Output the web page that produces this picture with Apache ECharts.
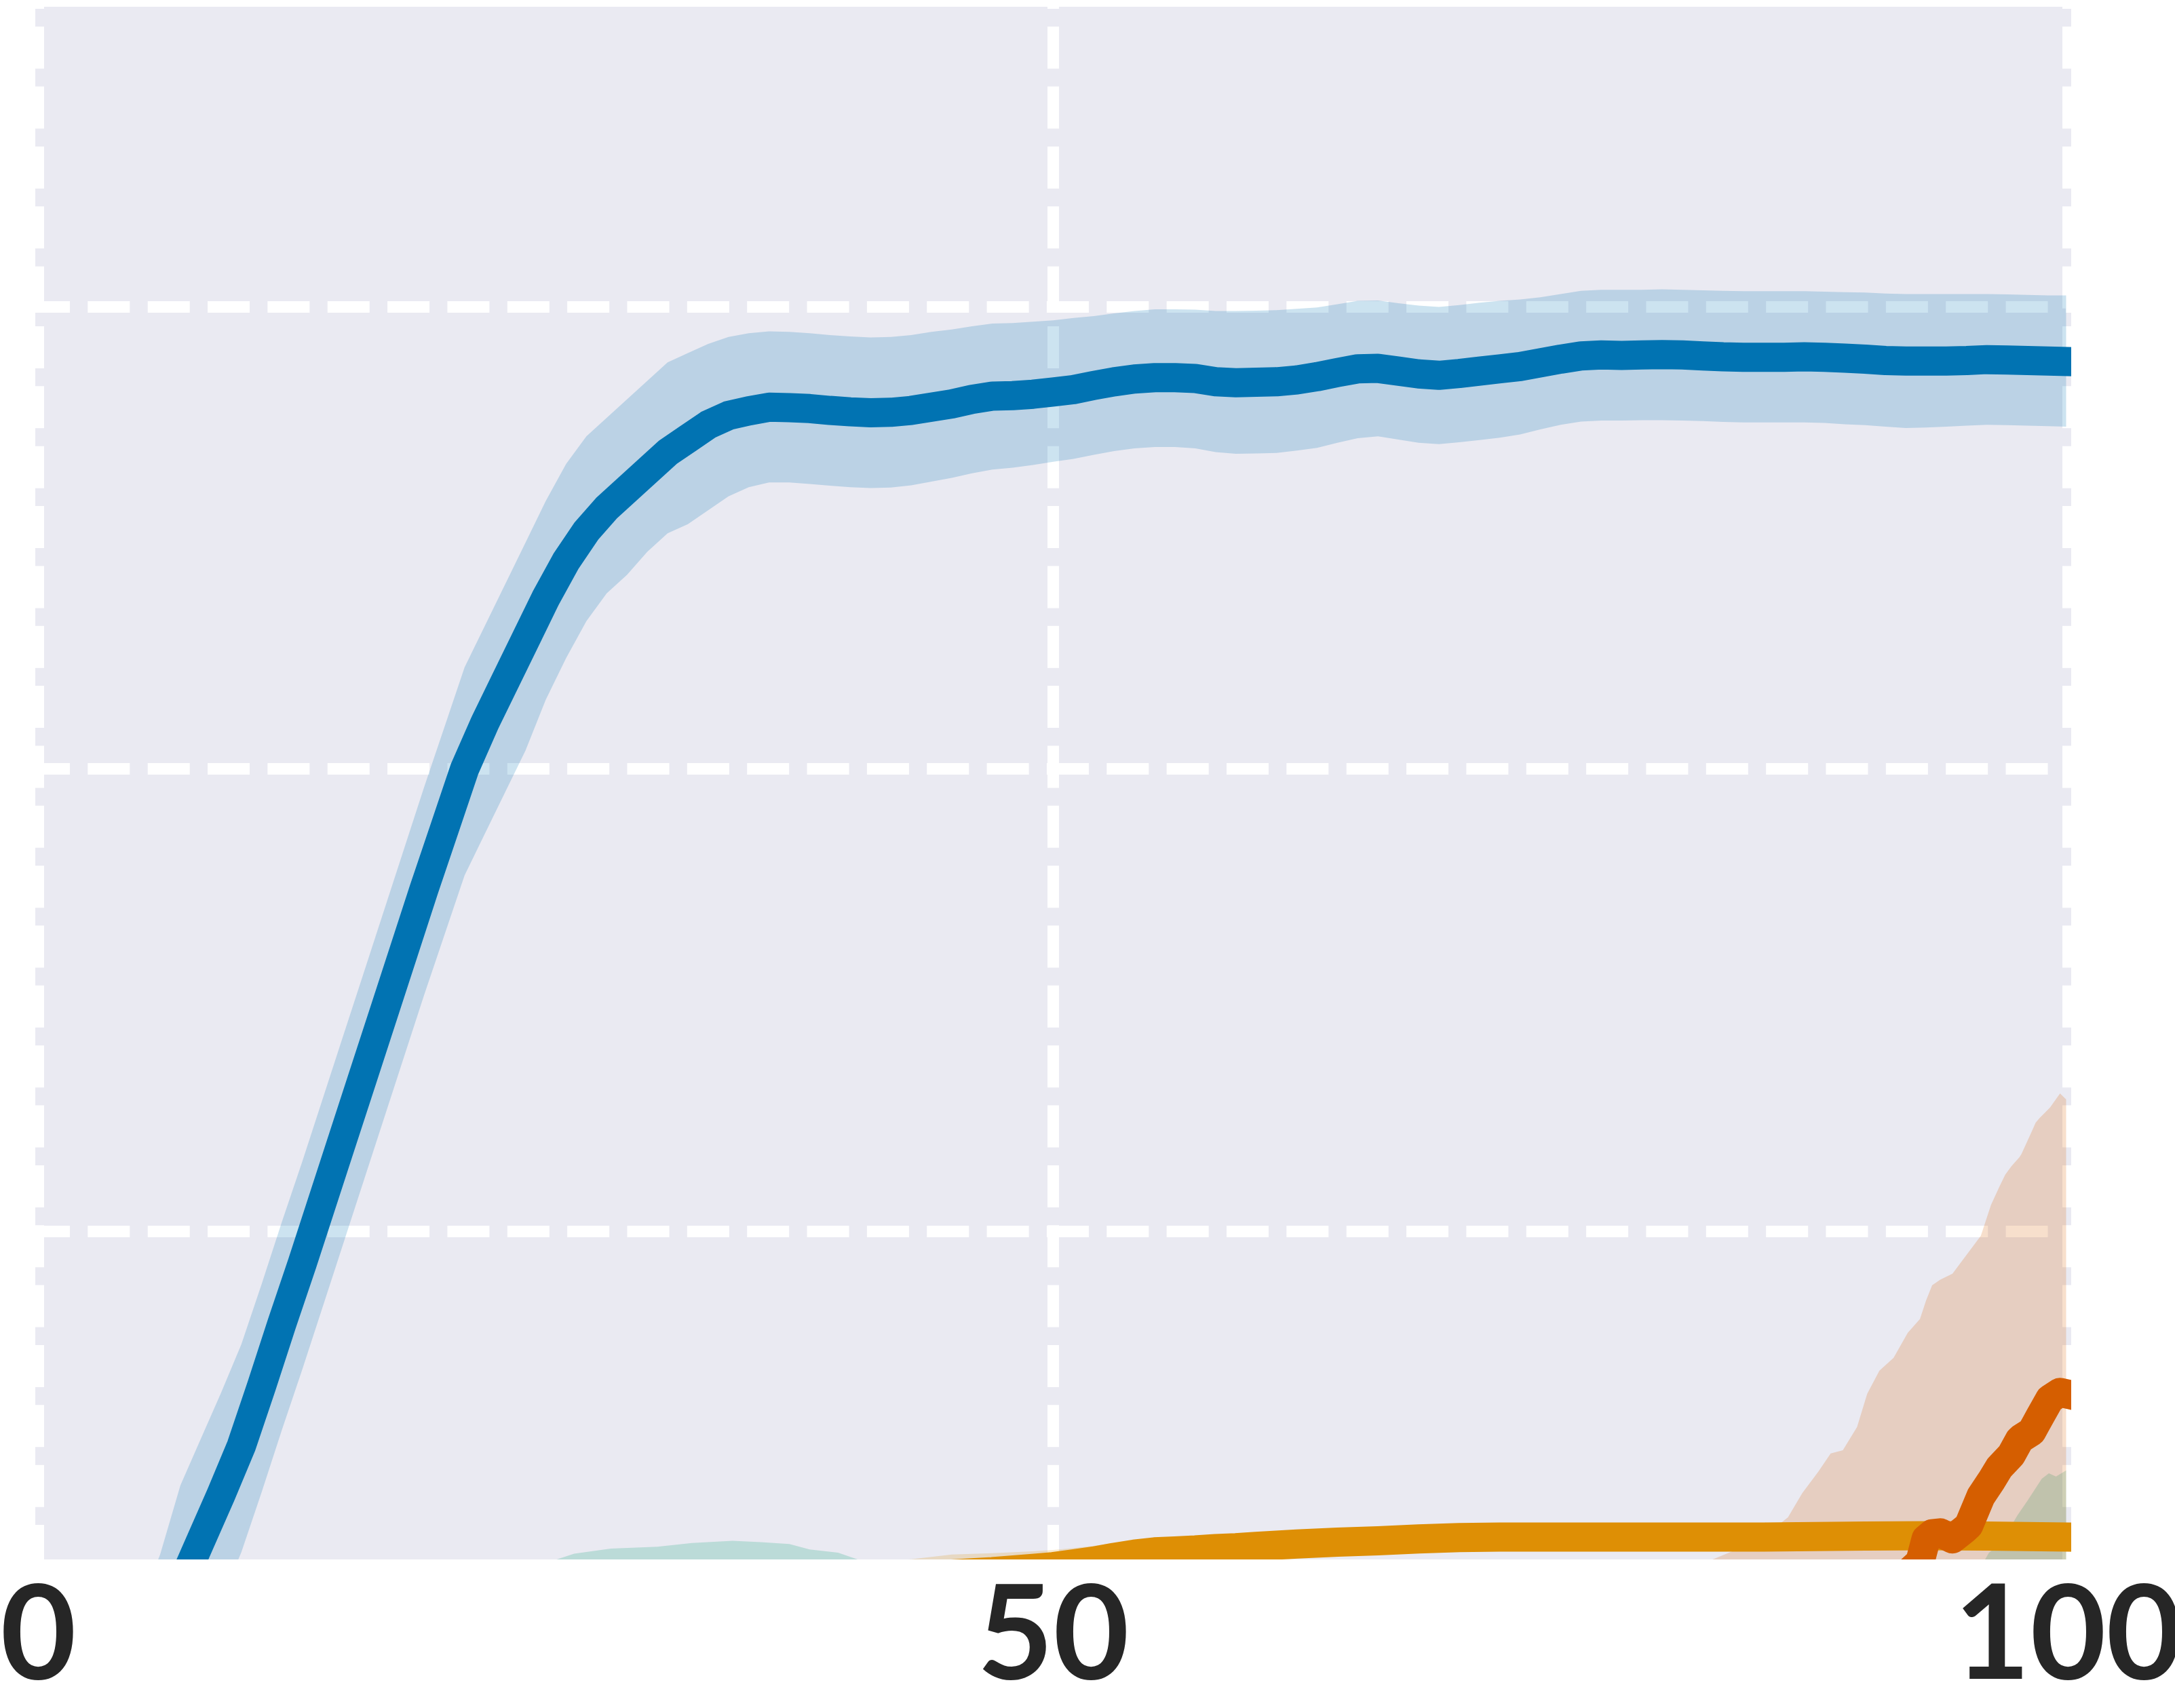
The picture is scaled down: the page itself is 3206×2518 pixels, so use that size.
<!DOCTYPE html>
<html>
<head>
<meta charset="utf-8">
<script src="https://cdn.jsdelivr.net/npm/echarts@6/dist/echarts.min.js"></script>
<style>
html,body{margin:0;padding:0;background:#ffffff;}
#chart{width:3206px;height:2518px;}
</style>
</head>
<body>
<div id="chart"></div>
<script>
// ---- tick values ----
const xTickValues = [0, 50, 100];
const yGridValues = [0, 1, 2];

// ---- blue series ----
const blueX = [0, 2, 4, 5, 6, 7, 8, 9, 10, 11, 12, 13, 14, 15, 16, 17, 18, 19, 20, 21, 22, 23, 24, 25, 26, 27, 28, 29, 30, 31, 32, 33, 34, 35, 36, 37, 38, 39, 40, 41, 42, 43, 44, 45, 46, 47, 48, 49, 50, 51, 52, 53, 54, 55, 56, 57, 58, 59, 60, 61, 62, 63, 64, 65, 66, 67, 68, 69, 70, 71, 72, 73, 74, 75, 76, 77, 78, 79, 80, 81, 82, 83, 84, 85, 86, 87, 88, 89, 90, 91, 92, 93, 94, 95, 96, 97, 98, 99, 99.9];
const blueMean = [-1.45, -1.30, -1.13, -1.03, -0.92, -0.77, -0.67, -0.57, -0.465, -0.335, -0.20, -0.07, 0.065, 0.20, 0.335, 0.47, 0.605, 0.74, 0.87, 1.00, 1.10, 1.19, 1.28, 1.37, 1.45, 1.515, 1.565, 1.605, 1.645, 1.685, 1.715, 1.745, 1.765, 1.775, 1.783, 1.782, 1.780, 1.776, 1.773, 1.771, 1.772, 1.776, 1.783, 1.790, 1.800, 1.807, 1.808, 1.811, 1.816, 1.821, 1.830, 1.838, 1.844, 1.847, 1.847, 1.845, 1.838, 1.836, 1.837, 1.838, 1.842, 1.849, 1.858, 1.866, 1.867, 1.861, 1.855, 1.852, 1.856, 1.861, 1.866, 1.871, 1.879, 1.887, 1.894, 1.896, 1.895, 1.896, 1.897, 1.896, 1.894, 1.892, 1.891, 1.891, 1.891, 1.892, 1.891, 1.889, 1.887, 1.884, 1.883, 1.883, 1.883, 1.884, 1.886, 1.885, 1.884, 1.883, 1.882];
const blueUpper = [-1.23, -1.08, -0.91, -0.81, -0.70, -0.55, -0.45, -0.35, -0.245, -0.115, 0.02, 0.15, 0.285, 0.42, 0.555, 0.69, 0.825, 0.96, 1.09, 1.22, 1.31, 1.40, 1.49, 1.58, 1.66, 1.72, 1.76, 1.80, 1.84, 1.88, 1.90, 1.92, 1.935, 1.943, 1.947, 1.946, 1.943, 1.939, 1.936, 1.934, 1.935, 1.939, 1.946, 1.951, 1.958, 1.964, 1.965, 1.968, 1.971, 1.976, 1.980, 1.986, 1.991, 1.995, 1.995, 1.994, 1.991, 1.991, 1.992, 1.993, 1.996, 1.999, 2.006, 2.013, 2.014, 2.008, 2.003, 2.000, 2.004, 2.009, 2.013, 2.016, 2.021, 2.028, 2.035, 2.037, 2.037, 2.037, 2.038, 2.037, 2.036, 2.035, 2.034, 2.034, 2.034, 2.034, 2.033, 2.032, 2.031, 2.029, 2.028, 2.028, 2.028, 2.028, 2.028, 2.027, 2.026, 2.025, 2.025];
const blueLower = [-1.68, -1.53, -1.36, -1.26, -1.15, -1.00, -0.90, -0.80, -0.695, -0.565, -0.43, -0.30, -0.165, -0.03, 0.105, 0.24, 0.375, 0.51, 0.64, 0.77, 0.86, 0.95, 1.04, 1.15, 1.24, 1.32, 1.38, 1.42, 1.47, 1.51, 1.53, 1.56, 1.59, 1.61, 1.62, 1.62, 1.617, 1.613, 1.61, 1.608, 1.609, 1.614, 1.622, 1.630, 1.640, 1.648, 1.652, 1.658, 1.665, 1.671, 1.680, 1.688, 1.694, 1.697, 1.697, 1.694, 1.686, 1.682, 1.683, 1.684, 1.689, 1.695, 1.706, 1.716, 1.720, 1.713, 1.706, 1.703, 1.707, 1.712, 1.717, 1.724, 1.735, 1.745, 1.752, 1.754, 1.754, 1.755, 1.755, 1.754, 1.753, 1.751, 1.750, 1.750, 1.750, 1.750, 1.749, 1.746, 1.744, 1.741, 1.738, 1.739, 1.741, 1.743, 1.745, 1.744, 1.743, 1.742, 1.741];

// ---- orange series ----
const orangeX = [0, 5, 10, 15, 20, 25, 30, 32, 35, 40, 43, 45, 47, 49, 50, 51, 52, 53, 54, 55, 56, 57, 58, 59, 60, 62, 64, 66, 68, 70, 72, 75, 80, 85, 90, 93, 96, 99.9];
const orangeMean = [-0.95, -0.93, -0.90, -0.87, -0.85, -0.82, -0.79, -0.78, -0.78, -0.77, -0.755, -0.742, -0.737, -0.730, -0.726, -0.720, -0.714, -0.706, -0.699, -0.694, -0.692, -0.690, -0.687, -0.685, -0.682, -0.677, -0.673, -0.670, -0.666, -0.663, -0.662, -0.662, -0.662, -0.662, -0.660, -0.659, -0.660, -0.662];
const orangeUpper = [-0.89, -0.87, -0.84, -0.81, -0.79, -0.76, -0.73, -0.72, -0.725, -0.72, -0.71, -0.70, -0.697, -0.693, -0.690, -0.686, -0.681, -0.675, -0.670, -0.667, -0.667, -0.666, -0.664, -0.663, -0.661, -0.657, -0.654, -0.651, -0.648, -0.645, -0.644, -0.644, -0.644, -0.644, -0.642, -0.641, -0.642, -0.644];
const orangeLower = [-1.01, -0.99, -0.96, -0.93, -0.91, -0.88, -0.85, -0.84, -0.835, -0.82, -0.80, -0.784, -0.777, -0.767, -0.762, -0.754, -0.747, -0.737, -0.728, -0.721, -0.717, -0.714, -0.710, -0.707, -0.703, -0.697, -0.692, -0.689, -0.684, -0.681, -0.680, -0.680, -0.680, -0.680, -0.678, -0.677, -0.678, -0.680];

// ---- green series ----
const greenX = [0, 10, 20, 24, 25.5, 26.4, 28.2, 30.5, 32.2, 34.2, 35.6, 37, 38, 39.4, 40.4, 42, 45, 50, 60, 70, 80, 90, 94, 95.9, 96.1, 96.7, 97.5, 98, 98.7, 99.05, 99.4, 99.9];
const greenMean = [-1.10, -1.05, -0.98, -0.93, -0.91, -0.90, -0.89, -0.885, -0.88, -0.875, -0.878, -0.88, -0.89, -0.90, -0.91, -0.92, -0.94, -0.95, -0.96, -0.96, -0.96, -0.95, -0.94, -0.92, -0.91, -0.90, -0.87, -0.85, -0.82, -0.81, -0.81, -0.80];
const greenUpper = [-0.95, -0.90, -0.80, -0.74, -0.711, -0.698, -0.687, -0.683, -0.675, -0.670, -0.673, -0.677, -0.689, -0.696, -0.711, -0.73, -0.76, -0.78, -0.80, -0.80, -0.79, -0.77, -0.75, -0.711, -0.696, -0.675, -0.615, -0.583, -0.536, -0.524, -0.531, -0.518];
const greenLower = [-1.25, -1.20, -1.16, -1.12, -1.11, -1.10, -1.09, -1.09, -1.085, -1.08, -1.083, -1.083, -1.09, -1.10, -1.11, -1.11, -1.12, -1.12, -1.12, -1.12, -1.13, -1.13, -1.13, -1.13, -1.12, -1.12, -1.12, -1.11, -1.10, -1.10, -1.09, -1.08];

// ---- red series ----
const redX = [0, 20, 40, 60, 75, 80, 82.2, 82.4, 84, 85.1, 85.5, 86.2, 86.9, 87.7, 88.3, 88.9, 89.6, 90.1, 90.7, 91.4, 92.1, 92.7, 93.0, 93.3, 93.7, 94.3, 94.9, 95.1, 95.7, 96.2, 96.6, 96.9, 97.2, 97.6, 97.7, 98.2, 98.4, 98.6, 99.1, 99.6, 99.9];
const redMean = [-1.20, -1.20, -1.18, -1.15, -1.10, -1.02, -0.97, -0.965, -0.94, -0.92, -0.915, -0.90, -0.885, -0.87, -0.855, -0.84, -0.82, -0.80, -0.785, -0.765, -0.74, -0.716, -0.666, -0.655, -0.653, -0.666, -0.645, -0.637, -0.574, -0.541, -0.512, -0.498, -0.484, -0.452, -0.448, -0.434, -0.418, -0.402, -0.363, -0.349, -0.352];
const redUpper = [-1.00, -1.00, -0.98, -0.95, -0.90, -0.80, -0.727, -0.712, -0.683, -0.630, -0.644, -0.619, -0.567, -0.520, -0.481, -0.474, -0.424, -0.352, -0.302, -0.274, -0.220, -0.190, -0.150, -0.117, -0.105, -0.092, -0.057, -0.045, -0.010, 0.057, 0.095, 0.122, 0.140, 0.160, 0.167, 0.215, 0.235, 0.245, 0.267, 0.298, 0.285];
const redLower = [-1.40, -1.40, -1.38, -1.35, -1.30, -1.24, -1.21, -1.21, -1.20, -1.20, -1.19, -1.18, -1.20, -1.22, -1.23, -1.21, -1.22, -1.25, -1.27, -1.26, -1.26, -1.24, -1.18, -1.19, -1.20, -1.24, -1.23, -1.23, -1.14, -1.14, -1.12, -1.12, -1.11, -1.06, -1.06, -1.08, -1.07, -1.05, -0.99, -1.00, -0.99];

// ---- styling ----
const COLORS = { blue: '#0173B2', orange: '#DE8F05', green: '#029E73', red: '#D55E00' };
const BAND_ALPHA = 0.2;

function pairs(xs, ys) { return xs.map((x, i) => [x, ys[i]]); }
function hexToRgba(hex, a) {
  const n = parseInt(hex.slice(1), 16);
  return 'rgba(' + ((n >> 16) & 255) + ',' + ((n >> 8) & 255) + ',' + (n & 255) + ',' + a + ')';
}

// Error band: one polygon through the library's coordinate mapping (api.coord)
function bandSeries(xs, lo, hi, color) {
  return {
    type: 'custom', coordinateSystem: 'cartesian2d', clip: true, silent: true, z: 2,
    data: [[xs[0], hi[0]]],
    encode: { x: 0, y: 1 },
    renderItem: function (params, api) {
      const pts = [];
      for (let i = 0; i < xs.length; i++) pts.push(api.coord([xs[i], hi[i]]));
      for (let i = xs.length - 1; i >= 0; i--) pts.push(api.coord([xs[i], lo[i]]));
      return { type: 'polygon', shape: { points: pts },
               style: { fill: hexToRgba(color, BAND_ALPHA), stroke: null } };
    }
  };
}
function meanSeries(xs, ys, color) {
  return { type: 'line', data: pairs(xs, ys), symbol: 'none', showSymbol: false,
    lineStyle: { color: color, width: 43, cap: 'square', join: 'round' }, z: 3, silent: true };
}

const gridLineSeries = {
  type: 'line', data: [], z: 1, silent: true,
  markLine: {
    silent: true, z: 1, animation: false,
    symbol: ['none', 'none'],
    label: { show: false },
    emphasis: { disabled: true },
    lineStyle: { color: '#ffffff', width: 17, type: [62, 26.35], dashOffset: 11, opacity: 1 },
    data: xTickValues.map(v => ({ xAxis: v })).concat(yGridValues.map(v => ({ yAxis: v })))
  }
};

const chart = echarts.init(document.getElementById('chart'), null, { renderer: 'canvas' });
chart.setOption({
  animation: false,
  backgroundColor: '#ffffff',
  grid: { left: 52, top: 10, width: 3001, height: 2289, show: true,
          containLabel: false, outerBoundsMode: 'none',
          backgroundColor: '#EAEAF2', borderWidth: 0, borderColor: 'rgba(0,0,0,0)' },
  xAxis: {
    type: 'value', min: -0.15, max: 100.15,
    axisLine: { show: false }, axisTick: { show: false }, splitLine: { show: false },
    axisLabel: {
      customValues: xTickValues,
      fontFamily: 'Lato', fontWeight: 'bold', fontSize: 193, color: '#262626',
      margin: 114, verticalAlign: 'middle',
      formatter: v => String(v)
    }
  },
  yAxis: { type: 'value', min: -0.7105, max: 2.6495, show: false,
           splitLine: { show: false }, axisLabel: { show: false } },
  graphic: [
    { type: 'rect', shape: { x: 0, y: 2299, width: 3206, height: 33 }, style: { fill: '#ffffff' }, z: 100, silent: true },
    { type: 'rect', shape: { x: 3053, y: 0, width: 153, height: 2332 }, style: { fill: '#ffffff' }, z: 100, silent: true }
  ],
  series: [
    gridLineSeries,
    bandSeries(blueX, blueLower, blueUpper, COLORS.blue),
    bandSeries(orangeX, orangeLower, orangeUpper, COLORS.orange),
    bandSeries(greenX, greenLower, greenUpper, COLORS.green),
    bandSeries(redX, redLower, redUpper, COLORS.red),
    meanSeries(blueX, blueMean, COLORS.blue),
    meanSeries(orangeX, orangeMean, COLORS.orange),
    meanSeries(greenX, greenMean, COLORS.green),
    meanSeries(redX, redMean, COLORS.red)
  ]
});
</script>
</body>
</html>
